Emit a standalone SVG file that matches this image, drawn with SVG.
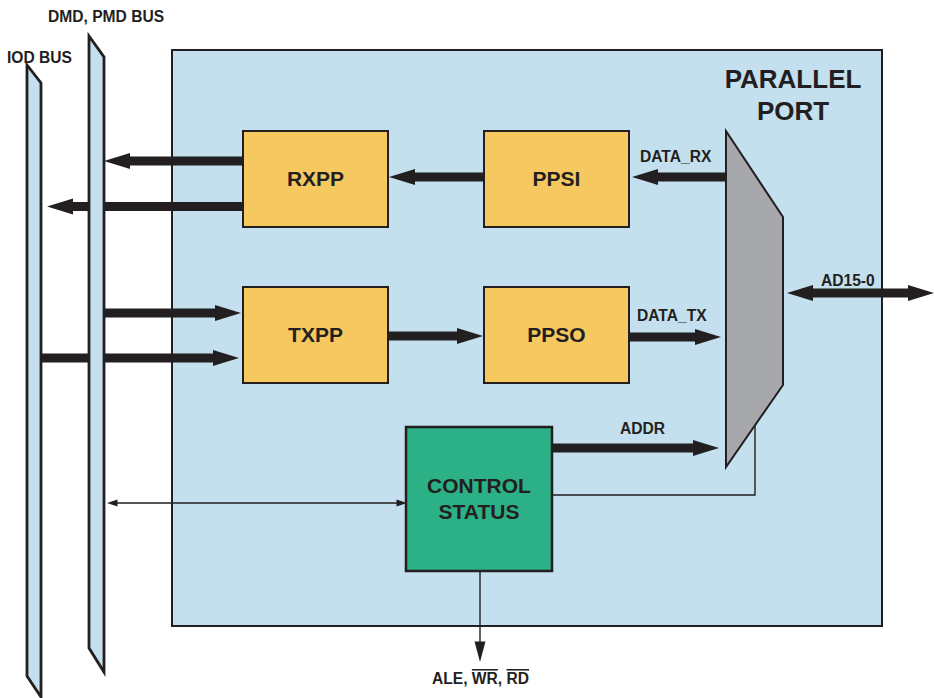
<svg xmlns="http://www.w3.org/2000/svg" width="934" height="698" viewBox="0 0 934 698">
<style>
.bus{fill:#c4e0ee;stroke:#231f20;stroke-width:2.8;stroke-linejoin:miter}
.frame{fill:#c4e0ee;stroke:#231f20;stroke-width:2}
.blk{fill:#f5c95f;stroke:#231f20;stroke-width:2}
.ctl{fill:#2cb085;stroke:#231f20;stroke-width:2.5}
.mux{fill:#a7a8ab;stroke:#231f20;stroke-width:2}
.thick{stroke:#231f20;stroke-width:9;fill:none}
.thin{stroke:#231f20;stroke-width:1.4;fill:none}
text{font-family:"Liberation Sans",Arial,sans-serif;font-weight:bold;fill:#231f20}
.lbl{font-size:15.6px}
.big{font-size:21px;text-anchor:middle}
.title{font-size:26px;text-anchor:middle}
</style>
<defs>
<marker id="ah" markerUnits="userSpaceOnUse" markerWidth="27" markerHeight="17" refX="0" refY="8" orient="auto-start-reverse" overflow="visible"><path d="M-1,0 L25,8 L-1,16 z" fill="#231f20"/></marker>
<marker id="ahs" markerUnits="userSpaceOnUse" markerWidth="11" markerHeight="8" refX="0" refY="3.5" orient="auto-start-reverse" overflow="visible"><path d="M-0.5,0 L10,3.5 L-0.5,7 z" fill="#231f20"/></marker>
<marker id="ahm" markerUnits="userSpaceOnUse" markerWidth="21" markerHeight="12" refX="0" refY="5.5" orient="auto-start-reverse" overflow="visible"><path d="M-0.5,0 L20,5.5 L-0.5,11 z" fill="#231f20"/></marker>
</defs>
<rect width="934" height="698" fill="#fff"/>
<g id="parallel-port">
<rect class="frame" x="172" y="50" width="710" height="576"/>
<text class="title" x="793" y="88">PARALLEL</text>
<text class="title" x="793" y="120">PORT</text>
</g>
<g id="connectors">
<path class="thin" d="M552,495 H755 V420"/>
<path class="thick" d="M243,161 H129" marker-end="url(#ah)"/>
<path class="thick" d="M246,206.5 H72" marker-end="url(#ah)"/>
<path class="thick" d="M104,313 H216" marker-end="url(#ah)"/>
<path class="thick" d="M41,358 H214" marker-end="url(#ah)"/>
<path class="thick" d="M484,177 H414" marker-end="url(#ah)"/>
<path class="thick" d="M726,177 H657" marker-end="url(#ah)"/>
<path class="thick" d="M388,336 H458" marker-end="url(#ah)"/>
<path class="thick" d="M629,337 H696" marker-end="url(#ah)"/>
<path class="thick" d="M552,448 H694" marker-end="url(#ah)"/>
<path class="thick" d="M812,293 H909" marker-start="url(#ah)" marker-end="url(#ah)"/>
<path class="thin" d="M117,503 H397" marker-start="url(#ahs)" marker-end="url(#ahs)"/>
<path class="thin" d="M480,571 V642" marker-end="url(#ahm)"/>
<text class="lbl" x="640" y="162">DATA_RX</text>
<text class="lbl" x="637" y="321">DATA_TX</text>
<text class="lbl" x="821" y="286">AD15-0</text>
<text class="lbl" x="620" y="434">ADDR</text>
<text class="lbl" x="432" y="684">ALE, <tspan style="text-decoration:overline">WR</tspan>, <tspan style="text-decoration:overline">RD</tspan></text>
</g>
<g id="iod-bus">
<polygon class="bus" points="27,65 41,83 41,697 27,676"/>
<text class="lbl" x="7" y="63">IOD BUS</text>
</g>
<g id="dmd-pmd-bus">
<polygon class="bus" points="89,36 104,57 104,672 89,648"/>
<text class="lbl" x="48" y="22">DMD, PMD BUS</text>
</g>
<g id="rxpp">
<rect class="blk" x="243" y="131" width="145" height="96"/>
<text class="big" x="315.5" y="186">RXPP</text>
</g>
<g id="ppsi">
<rect class="blk" x="484" y="131" width="145" height="96"/>
<text class="big" x="556.5" y="186">PPSI</text>
</g>
<g id="txpp">
<rect class="blk" x="243" y="287" width="145" height="96"/>
<text class="big" x="315.5" y="342">TXPP</text>
</g>
<g id="ppso">
<rect class="blk" x="484" y="287" width="145" height="96"/>
<text class="big" x="556.5" y="342">PPSO</text>
</g>
<g id="control-status">
<rect class="ctl" x="406" y="427" width="146" height="144"/>
<text class="big" x="479" y="493">CONTROL</text>
<text class="big" x="479" y="519">STATUS</text>
</g>
<g id="mux">
<polygon class="mux" points="726,131 783,217 783,385 726,467"/>
</g>
</svg>
